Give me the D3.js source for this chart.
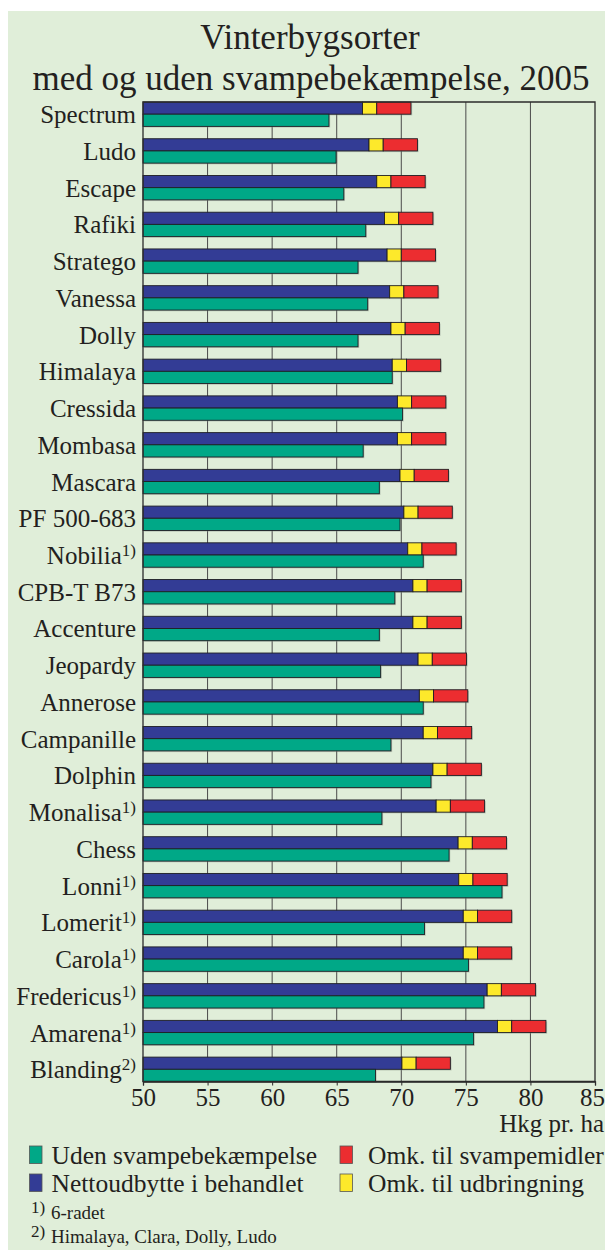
<!doctype html>
<html>
<head>
<meta charset="UTF-8">
<title>Vinterbygsorter</title>
<style>
	body { margin: 0; background: #ffffff; }
	#chart { font-size: 0; }
	text { font-family: "Liberation Serif", "Times New Roman", serif; fill: #231f20; }
</style>
</head>
<body>
<div id="chart"></div>
<script src="https://cdn.jsdelivr.net/npm/d3@7"></script>
<script>
	var w = 605;
	var h = 1250;

	// sorter, fra top til bund
	var categories = ["Spectrum", "Ludo", "Escape", "Rafiki", "Stratego", "Vanessa", "Dolly",
		"Himalaya", "Cressida", "Mombasa", "Mascara", "PF 500-683", "Nobilia", "CPB-T B73",
		"Accenture", "Jeopardy", "Annerose", "Campanille", "Dolphin", "Monalisa", "Chess",
		"Lonni", "Lomerit", "Carola", "Fredericus", "Amarena", "Blanding"];
	var notes = ["", "", "", "", "", "", "", "", "", "", "", "", "1)", "", "", "", "", "", "",
		"1)", "", "1)", "1)", "1)", "1)", "1)", "2)"];
	// hkg pr. ha
	var netto = [67.0, 67.5, 68.1, 68.7, 68.9, 69.1, 69.2, 69.3, 69.7, 69.7, 69.9, 70.2, 70.5, 70.9,
		70.9, 71.3, 71.4, 71.7, 72.45, 72.7, 74.4, 74.45, 74.8, 74.8, 76.65, 77.45, 70.05];
	var udbringning = [1.1, 1.1, 1.1, 1.1, 1.1, 1.1, 1.1, 1.1, 1.1, 1.1, 1.1, 1.1, 1.1, 1.1,
		1.1, 1.1, 1.1, 1.1, 1.1, 1.1, 1.1, 1.1, 1.1, 1.1, 1.1, 1.1, 1.1];
	var svampemidler = [2.65, 2.65, 2.65, 2.65, 2.65, 2.65, 2.65, 2.65, 2.65, 2.65, 2.65, 2.65, 2.65, 2.65,
		2.65, 2.65, 2.65, 2.65, 2.65, 2.65, 2.65, 2.65, 2.65, 2.65, 2.65, 2.65, 2.65];
	var uden = [64.4, 64.95, 65.55, 67.25, 66.65, 67.4, 66.65, 69.3, 70.1, 67.05, 68.3, 69.9, 71.7, 69.5,
		68.3, 68.4, 71.7, 69.2, 72.3, 68.5, 73.7, 77.8, 71.8, 75.2, 76.4, 75.6, 68.0];
	var xTicks = [50, 55, 60, 65, 70, 75, 80, 85];

	var legendItems = [
		{label: "Uden svampebekæmpelse", color: "#00a887", col: 0, row: 0},
		{label: "Nettoudbytte i behandlet", color: "#333c95", col: 0, row: 1},
		{label: "Omk. til svampemidler", color: "#ec2d30", col: 1, row: 0},
		{label: "Omk. til udbringning", color: "#fde92b", col: 1, row: 1}
	];

	var rows = categories.map(function (c, i) {
		return {name: c, note: notes[i], netto: netto[i], ud: udbringning[i],
			svamp: svampemidler[i], uden: uden[i]};
	});

	var pLeft = 143, pRight = 595, pTop = 102, pBottom = 1081.5;

	var xScale = d3.scaleLinear().domain([50, 85]).range([pLeft, pRight]);
	var yScale = d3.scaleBand().domain(categories).range([pTop, pBottom])
			.paddingInner(0.336).paddingOuter(0);
	var bh = yScale.bandwidth() / 2;

	var svg = d3.select("#chart").append("svg")
			.attr("width", w)
			.attr("height", h);

	svg.append("rect")
			.attr("x", 8).attr("y", 11)
			.attr("width", w - 8).attr("height", h - 11)
			.attr("fill", "#e0eed9");

	// titel
	var title = svg.append("text")
			.attr("text-anchor", "middle")
			.attr("font-size", 35);
	title.append("tspan").attr("x", 310).attr("y", 49).text("Vinterbygsorter");
	title.append("tspan").attr("x", 311).attr("y", 90).text("med og uden svampebekæmpelse, 2005");

	// lodrette linjer
	svg.selectAll("line.grid")
			.data(xTicks.slice(1, -1))
			.enter()
			.append("line")
			.attr("class", "grid")
			.attr("x1", function (d) { return xScale(d); })
			.attr("x2", function (d) { return xScale(d); })
			.attr("y1", pTop)
			.attr("y2", pBottom)
			.attr("stroke", "#4a4a4a")
			.attr("stroke-width", 1);

	var g = svg.selectAll("g.row")
			.data(rows)
			.enter()
			.append("g")
			.attr("class", "row")
			.attr("transform", function (d) { return "translate(0," + yScale(d.name) + ")"; });

	function bar(sel, x0, x1, y, color) {
		sel.append("rect")
				.attr("x", function (d) { return xScale(x0(d)) + 1.2; })
				.attr("y", y + 1.2)
				.attr("width", function (d) { return xScale(x1(d)) - xScale(x0(d)); })
				.attr("height", bh)
				.attr("fill", "#8a948a")
				.attr("opacity", 0.45);
		sel.append("rect")
				.attr("x", function (d) { return xScale(x0(d)); })
				.attr("y", y)
				.attr("width", function (d) { return xScale(x1(d)) - xScale(x0(d)); })
				.attr("height", bh)
				.attr("fill", color)
				.attr("stroke", "#1e1e24")
				.attr("stroke-width", 0.9);
	}

	bar(g, function () { return 50; }, function (d) { return d.netto; }, 0, "#333c95");
	bar(g, function (d) { return d.netto; }, function (d) { return d.netto + d.ud; }, 0, "#fde92b");
	bar(g, function (d) { return d.netto + d.ud; }, function (d) { return d.netto + d.ud + d.svamp; }, 0, "#ec2d30");
	bar(g, function () { return 50; }, function (d) { return d.uden; }, bh, "#00a887");

	// sortnavne
	var lab = g.append("text")
			.attr("x", pLeft - 7)
			.attr("y", bh + 9)
			.attr("text-anchor", "end")
			.attr("font-size", 25);
	lab.append("tspan").text(function (d) { return d.name; });
	lab.append("tspan")
			.attr("font-size", 17)
			.attr("dy", -8)
			.text(function (d) { return d.note; });

	// ramme
	svg.append("path")
			.attr("d", "M" + pLeft + "," + pBottom + "V" + pTop + "H" + pRight + "V" + pBottom + "Z")
			.attr("fill", "none")
			.attr("stroke", "#2b2b2b")
			.attr("stroke-width", 1.3);

	var xAxis = d3.axisBottom(xScale).tickValues(xTicks).tickSize(4).tickPadding(3);
	var ax = svg.append("g")
			.attr("transform", "translate(0," + pBottom + ")")
			.call(xAxis);
	ax.attr("font-family", null);
	ax.select(".domain").attr("stroke", "#2b2b2b").attr("stroke-width", 1.3);
	ax.selectAll(".tick line").attr("stroke", "#2b2b2b");
	ax.selectAll(".tick text")
			.attr("font-size", 25)
			.attr("fill", "#231f20")
			.attr("dx", function (d) { return d === 85 ? -3 : 0; });

	svg.append("text")
			.attr("x", 604).attr("y", 1132)
			.attr("text-anchor", "end")
			.attr("font-size", 25)
			.text("Hkg pr. ha");

	// signatur
	var leg = svg.selectAll("g.leg")
			.data(legendItems)
			.enter()
			.append("g")
			.attr("class", "leg")
			.attr("transform", function (d) {
				return "translate(" + (d.col ? 340 : 29.5) + "," + (1146 + d.row * 28) + ")";
			});
	leg.append("rect")
			.attr("width", 12.5).attr("height", 17.5)
			.attr("fill", function (d) { return d.color; })
			.attr("stroke", "#555").attr("stroke-width", 0.8);
	leg.append("text")
			.attr("x", function (d) { return d.col ? 28 : 22; })
			.attr("y", 17.5)
			.attr("font-size", 25.5)
			.text(function (d) { return d.label; });

	// fodnoter
	var footnotes = [["1)", "6-radet"], ["2)", "Himalaya, Clara, Dolly, Ludo"]];
	var fn = svg.selectAll("g.fn")
			.data(footnotes)
			.enter()
			.append("g")
			.attr("class", "fn")
			.attr("transform", function (d, i) { return "translate(31," + (1219 + i * 23.5) + ")"; });
	fn.append("text").attr("y", -6).attr("font-size", 17).text(function (d) { return d[0]; });
	fn.append("text").attr("x", 20).attr("font-size", 19).text(function (d) { return d[1]; });
</script>
</body>
</html>
